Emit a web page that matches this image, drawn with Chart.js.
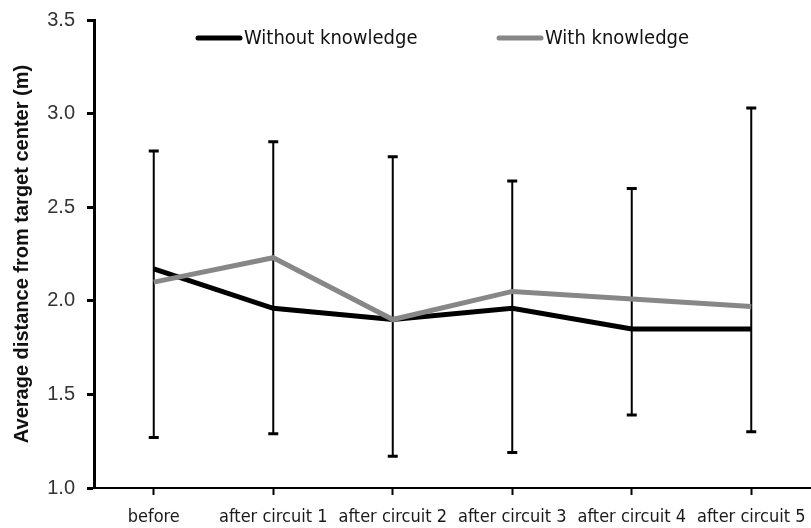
<!DOCTYPE html>
<html>
<head>
<meta charset="utf-8">
<script src="https://cdn.jsdelivr.net/npm/chart.js@4.4.1/dist/chart.umd.min.js"></script>
<style>
  html, body { margin: 0; padding: 0; background: #ffffff; }
  #wrap { width: 811px; height: 528px; position: relative; }
</style>
</head>
<body>
<div id="wrap"><canvas id="chart" width="811" height="528"></canvas></div>
<script>
// Measurement stages along the x axis
const categories = ['before', 'after circuit 1', 'after circuit 2', 'after circuit 3', 'after circuit 4', 'after circuit 5'];

// Mean distance from the target centre (m)
const withoutKnowledge = [2.17, 1.96, 1.90, 1.96, 1.85, 1.85];
const withKnowledge    = [2.10, 2.23, 1.90, 2.05, 2.01, 1.97];

// Error bar extents at each stage (m)
const errorHigh = [2.80, 2.85, 2.77, 2.64, 2.60, 3.03];
const errorLow  = [1.27, 1.29, 1.17, 1.19, 1.39, 1.30];

// Value axis ticks
const yTicks = [1.0, 1.5, 2.0, 2.5, 3.0, 3.5];

const seriesLabels = ['Without knowledge', 'With knowledge'];
const seriesColors = ['#000000', '#878787'];

// Vertical error bars with flat caps, drawn underneath the lines
const errorBars = {
  id: 'errorBars',
  beforeDatasetsDraw(chart) {
    const { ctx, scales: { x, y } } = chart;
    ctx.save();
    ctx.strokeStyle = '#000';
    categories.forEach((c, i) => {
      const px = x.getPixelForValue(i);
      const top = y.getPixelForValue(errorHigh[i]);
      const bot = y.getPixelForValue(errorLow[i]);
      ctx.lineWidth = 2;
      ctx.beginPath();
      ctx.moveTo(px, top);
      ctx.lineTo(px, bot);
      ctx.stroke();
      ctx.lineWidth = 3;
      ctx.beginPath();
      ctx.moveTo(px - 5, top);
      ctx.lineTo(px + 5, top);
      ctx.moveTo(px - 5, bot);
      ctx.lineTo(px + 5, bot);
      ctx.stroke();
    });
    ctx.restore();
  }
};

// Legend laid over the top of the plot area
const topLegend = {
  id: 'topLegend',
  afterDraw(chart) {
    const { ctx, chartArea } = chart;
    const starts = [104, 405];
    const yMid = chartArea.top + 18;
    ctx.save();
    chart.data.datasets.forEach((ds, i) => {
      const x0 = chartArea.left + starts[i];
      ctx.strokeStyle = ds.borderColor;
      ctx.lineWidth = 5;
      ctx.lineCap = 'round';
      ctx.beginPath();
      ctx.moveTo(x0, yMid);
      ctx.lineTo(x0 + 42, yMid);
      ctx.stroke();
      ctx.fillStyle = '#111';
      ctx.font = '20px "DejaVu Sans Condensed", "DejaVu Sans", sans-serif';
      ctx.textBaseline = 'middle';
      ctx.textAlign = 'left';
      ctx.fillText(ds.label, x0 + 46, yMid + 1);
    });
    ctx.restore();
  }
};

new Chart(document.getElementById('chart'), {
  type: 'line',
  data: {
    labels: categories,
    datasets: [
      {
        label: seriesLabels[0],
        data: withoutKnowledge,
        borderColor: seriesColors[0],
        backgroundColor: seriesColors[0],
        borderWidth: 5,
        pointRadius: 0,
        tension: 0,
        fill: false,
        order: 1
      },
      {
        label: seriesLabels[1],
        data: withKnowledge,
        borderColor: seriesColors[1],
        backgroundColor: seriesColors[1],
        borderWidth: 5,
        pointRadius: 0,
        tension: 0,
        fill: false,
        order: 0
      }
    ]
  },
  options: {
    responsive: false,
    animation: false,
    events: [],
    layout: { padding: { top: 20, right: 0, left: 0, bottom: 0 } },
    plugins: {
      legend: { display: false },
      tooltip: { enabled: false }
    },
    scales: {
      x: {
        type: 'category',
        offset: true,
        grid: {
          display: true,
          drawOnChartArea: false,
          offset: false,
          drawTicks: true,
          tickLength: 7,
          tickWidth: 2,
          tickColor: '#000',
          color: '#000'
        },
        border: { display: true, color: '#000', width: 2 },
        ticks: {
          color: '#1a1a1a',
          font: { family: '"DejaVu Sans Condensed", "DejaVu Sans", sans-serif', size: 18 },
          padding: 12,
          maxRotation: 0,
          autoSkip: false
        },
        afterFit(scale) {
          scale.height = 40;
          scale.paddingLeft = 0;
          scale.paddingRight = 0;
        }
      },
      y: {
        min: yTicks[0],
        max: yTicks[yTicks.length - 1],
        afterBuildTicks(scale) { scale.ticks = yTicks.map(v => ({ value: v })); },
        grid: {
          display: true,
          drawOnChartArea: false,
          drawTicks: true,
          tickLength: 7,
          tickWidth: 3,
          tickColor: '#000',
          color: '#000'
        },
        border: { display: true, color: '#000', width: 3 },
        ticks: {
          color: '#333',
          font: { family: '"Liberation Sans", Arial, sans-serif', size: 20 },
          padding: 12,
          callback: v => Number(v).toFixed(1)
        },
        title: {
          display: true,
          text: 'Average distance from target center (m)',
          color: '#111',
          font: { family: '"Liberation Sans", Arial, sans-serif', size: 20, weight: 'bold' },
          padding: { top: 10, bottom: 0 }
        },
        afterFit(scale) {
          scale.width = 94;
          scale.paddingTop = 0;
          scale.paddingBottom = 0;
        }
      }
    }
  },
  plugins: [errorBars, topLegend]
});
</script>
</body>
</html>
